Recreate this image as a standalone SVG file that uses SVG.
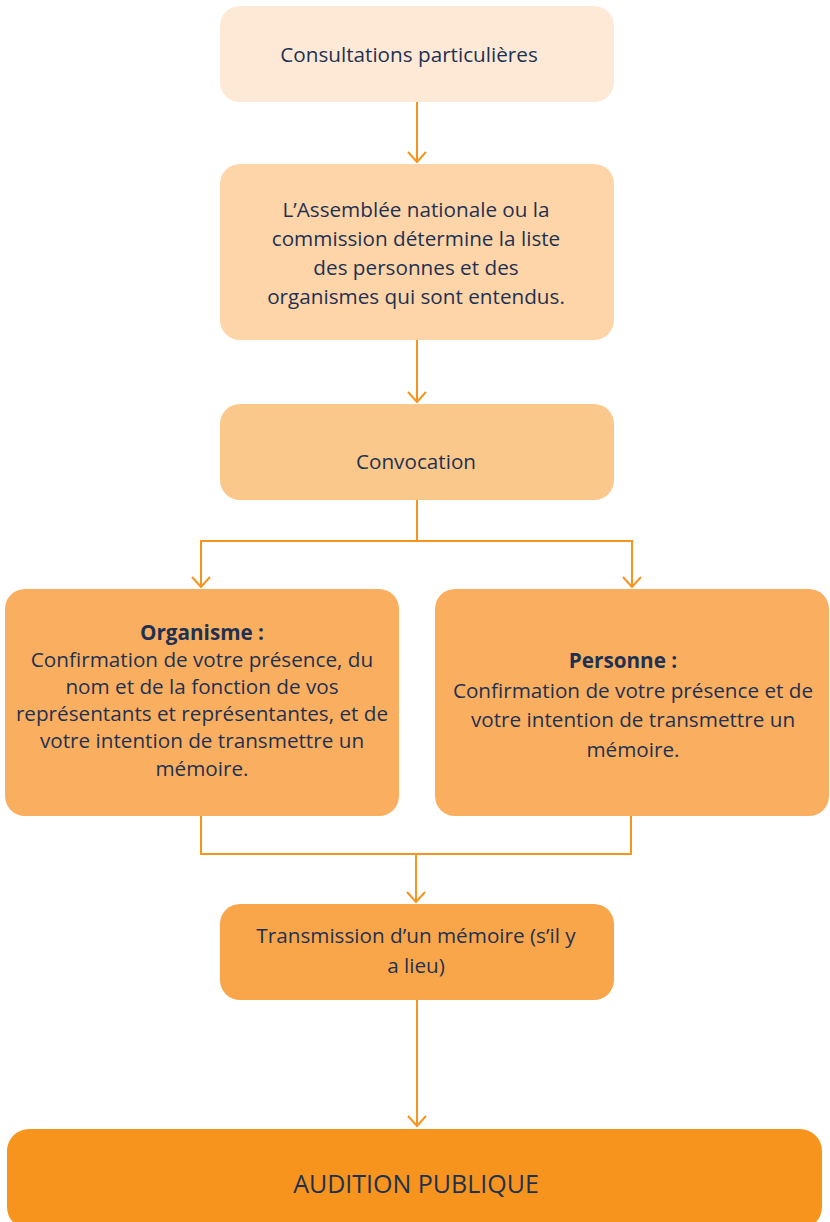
<svg xmlns="http://www.w3.org/2000/svg" width="830" height="1222" viewBox="0 0 830 1222">
<style>
.t{font-family:"Open Sans","Liberation Sans",Arial,sans-serif;font-size:20.7px;fill:#1F3152;text-anchor:middle}
.b{font-weight:bold}
.c{fill:none;stroke:#F7941E;stroke-width:2}
</style>
<rect width="830" height="1222" fill="#fff"/>
<g id="connectors">
<path class="c" d="M417,102 V162"/>
<path d="M408,152 L417,162 L426,152" class="c"/>
<path class="c" d="M417,340 V402"/>
<path d="M408,392 L417,402 L426,392" class="c"/>
<path class="c" d="M417,500 V541 H201 V587"/>
<path d="M192,577 L201,587 L210,577" class="c"/>
<path class="c" d="M417,541 H632 V587"/>
<path d="M623,577 L632,587 L641,577" class="c"/>
<path class="c" d="M201,816 V854 H631 V816"/>
<path class="c" d="M416,854 V902"/>
<path d="M407,892 L416,902 L425,892" class="c"/>
<path class="c" d="M417,1000 V1126"/>
<path d="M408,1116 L417,1126 L426,1116" class="c"/>
</g>
<g id="n1">
<rect x="220" y="6" width="394" height="96" rx="20" fill="#FDE9D5"/>
<text class="t" x="409" y="62">Consultations particulières</text>
</g>
<g id="n2">
<rect x="220" y="164" width="394" height="176" rx="20" fill="#FDD5A8"/>
<text class="t" x="416" y="217">L’Assemblée nationale ou la</text>
<text class="t" x="416" y="246">commission détermine la liste</text>
<text class="t" x="416" y="275">des personnes et des</text>
<text class="t" x="416" y="304">organismes qui sont entendus.</text>
</g>
<g id="n3">
<rect x="220" y="404" width="394" height="96" rx="20" fill="#FBC88C"/>
<text class="t" x="416" y="469">Convocation</text>
</g>
<g id="n4">
<rect x="5" y="589" width="394" height="227" rx="20" fill="#FAAF60"/>
<text class="t b" x="202" y="640">Organisme :</text>
<text class="t" x="202" y="667">Confirmation de votre présence, du</text>
<text class="t" x="202" y="694">nom et de la fonction de vos</text>
<text class="t" x="202" y="721">représentants et représentantes, et de</text>
<text class="t" x="202" y="748">votre intention de transmettre un</text>
<text class="t" x="202" y="776">mémoire.</text>
</g>
<g id="n5">
<rect x="435" y="589" width="394" height="227" rx="20" fill="#FAAF60"/>
<text class="t b" x="623" y="668">Personne :</text>
<text class="t" x="633" y="698">Confirmation de votre présence et de</text>
<text class="t" x="633" y="727">votre intention de transmettre un</text>
<text class="t" x="633" y="757">mémoire.</text>
</g>
<g id="n6">
<rect x="220" y="904" width="394" height="96" rx="20" fill="#F9A64B"/>
<text class="t" x="416" y="943">Transmission d’un mémoire (s’il y</text>
<text class="t" x="416" y="973">a lieu)</text>
</g>
<g id="n7">
<rect x="7" y="1129" width="815" height="100" rx="22" fill="#F7941E"/>
<text class="t" x="416" y="1193" style="font-size:25px">AUDITION PUBLIQUE</text>
</g>
</svg>
